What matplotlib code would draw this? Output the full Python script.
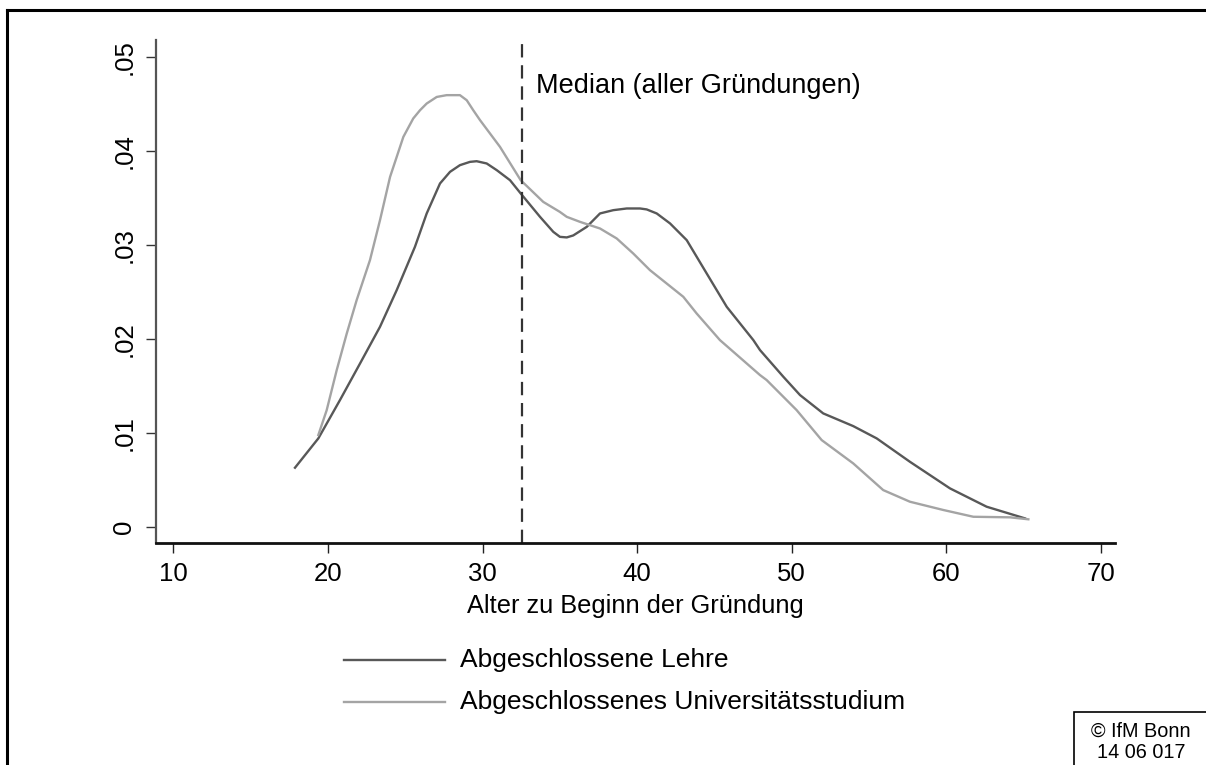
import matplotlib
matplotlib.use("Agg")
import matplotlib.pyplot as plt
from matplotlib.lines import Line2D
from matplotlib.patches import Rectangle

plt.rcParams['font.family'] = ['Liberation Sans', 'DejaVu Sans']

# Data (kernel density estimates)
lehre_x = [17.87, 19.38, 20.78, 22.08, 23.37, 24.45, 25.63, 26.39, 27.25, 27.9,
           28.54, 29.19, 29.62, 30.27, 30.92, 31.78, 32.47, 33.72, 34.58, 35.01,
           35.45, 35.87, 36.74, 37.6, 38.46, 39.33, 40.19, 40.62, 41.27,
           42.13, 43.21, 44.5, 45.8, 47.52, 47.95, 49.46, 50.54, 52.04, 53.98,
           55.5, 57.65, 60.24, 62.61, 65.09]
lehre_y = [0.00628, 0.0094, 0.01348, 0.01738, 0.02128, 0.02518, 0.02979, 0.03334,
           0.03653, 0.03777, 0.03848, 0.03883, 0.0389, 0.03866, 0.03795, 0.03688,
           0.03547, 0.03298, 0.03138, 0.03085, 0.03079, 0.0310, 0.03191,
           0.03334, 0.03369, 0.03387, 0.03387, 0.03377, 0.03334, 0.03228, 0.0305,
           0.02696, 0.0234, 0.01986, 0.0188, 0.01596, 0.01401, 0.01206, 0.01071,
           0.0094, 0.00691, 0.00408, 0.00213, 0.00089]

uni_x = [19.38, 19.92, 20.57, 21.22, 21.86, 22.72, 23.37, 24.02, 24.88, 25.52,
         25.96, 26.39, 27.04, 27.68, 28.54, 28.98, 29.4, 29.84, 31.13, 32.47,
         33.93, 35.0, 35.45, 36.3, 37.6, 38.68, 39.75, 40.83, 42.99, 43.85,
         45.36, 47.95, 48.38, 50.32, 51.94, 53.98, 55.92, 57.65, 59.81, 61.75,
         64.12, 65.31]
uni_y = [0.00976, 0.0124, 0.01667, 0.02057, 0.02412, 0.02837, 0.03263, 0.03723,
         0.04149, 0.04345, 0.04433, 0.04504, 0.04574, 0.04593, 0.04593, 0.04539,
         0.04433, 0.04327, 0.04043, 0.03688, 0.03457, 0.03351, 0.03298, 0.03245,
         0.03174, 0.03068, 0.02908, 0.02731, 0.02447, 0.0227, 0.01986, 0.01614,
         0.01561, 0.01241, 0.00922, 0.00674, 0.0039, 0.00266, 0.00178, 0.00106,
         0.0010, 0.00079]

median_x = 32.54
median_label = "Median (aller Gründungen)"
x_ticks = [10, 20, 30, 40, 50, 60, 70]
y_ticks = [0, 0.01, 0.02, 0.03, 0.04, 0.05]
y_ticklabels = ["0", ".01", ".02", ".03", ".04", ".05"]
x_label = "Alter zu Beginn der Gründung"
series_names = ["Abgeschlossene Lehre", "Abgeschlossenes Universitätsstudium"]
credit = ["© IfM Bonn", "14 06 017"]

col_dark = "#585858"
col_light = "#a4a4a4"

fig = plt.figure(figsize=(12.06, 7.65), dpi=100)
W, H = 1206, 765
ax = fig.add_axes([155.7 / W, 1 - 542.7 / H, (1115.4 - 155.7) / W, (542.7 - 40) / H])

ax.plot(lehre_x, lehre_y, color=col_dark, lw=1.7, solid_joinstyle='round')
ax.plot(uni_x, uni_y, color=col_light, lw=1.7, solid_joinstyle='round')
ax.axvline(median_x, color="#333333", lw=1.6, dashes=(6, 3.5))
ax.text(median_x + 0.95, 0.0469, median_label, fontsize=19.5, va='center', ha='left')

ax.set_xlim(8.86, 70.94)
ax.set_ylim(-0.0017, 0.0518)
ax.set_xticks(x_ticks)
ax.set_yticks(y_ticks)
ax.set_yticklabels(y_ticklabels, rotation=90, va='center')
ax.tick_params(axis='x', length=7, width=1.0, labelsize=18.5, pad=7, color="#222222")
ax.tick_params(axis='y', length=7, width=1.0, labelsize=18.5, pad=7, color="#333333")
for s in ['top', 'right']:
    ax.spines[s].set_visible(False)
ax.spines['bottom'].set_linewidth(2.0)
ax.spines['bottom'].set_color("#111111")
ax.spines['left'].set_linewidth(1.6)
ax.spines['left'].set_color("#555555")
ax.set_xlabel(x_label, fontsize=18.3, labelpad=6)

# Legend
for i, (name, c) in enumerate(zip(series_names, [col_dark, col_light])):
    yy = 1 - (660 + i * 42) / H
    fig.add_artist(Line2D([343.8 / W, 444.6 / W], [yy, yy], color=c, lw=1.7))
    fig.text(460 / W, yy, name, fontsize=19, va='center', ha='left')

# Outer frame (top and left edges)
fig.add_artist(Line2D([7 / W, 7 / W], [0, 1 - 10 / H], color='black', lw=2.2))
fig.add_artist(Line2D([7 / W, 1], [1 - 10 / H, 1 - 10 / H], color='black', lw=2.2))

# Credit box
fig.add_artist(Rectangle((1074 / W, -0.01), (1206 - 1074) / W + 0.01, 1 - 711.7 / H + 0.01,
                         fill=False, edgecolor='black', lw=1.2, transform=fig.transFigure))
fig.text(1141 / W, 1 - 731 / H, credit[0], fontsize=14.3, ha='center', va='center')
fig.text(1141 / W, 1 - 752 / H, credit[1], fontsize=14.3, ha='center', va='center')

fig.savefig("out.png", dpi=100)
